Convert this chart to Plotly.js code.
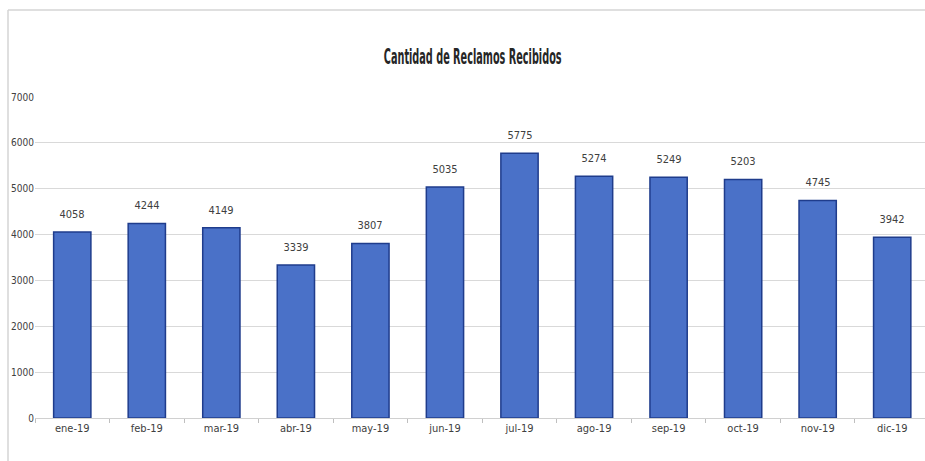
<!DOCTYPE html>
<html>
<head>
<meta charset="utf-8">
<script src="https://cdn.plot.ly/plotly-3.0.1.min.js"></script>
<style>
html,body{margin:0;padding:0;background:#fff;}
#chart{width:925px;height:461px;}
#chart svg text{font-stretch:condensed !important;}
#chart svg .gtitle{transform-box:fill-box;transform-origin:center;transform:scale(0.6,1.15);}
</style>
</head>
<body>
<div id="chart"></div>
<script>
const months = ["ene-19","feb-19","mar-19","abr-19","may-19","jun-19","jul-19","ago-19","sep-19","oct-19","nov-19","dic-19"];
const reclamos = [4058,4244,4149,3339,3807,5035,5775,5274,5249,5203,4745,3942];
const yTicks = [0,1000,2000,3000,4000,5000,6000,7000];
const chartTitle = "Cantidad de Reclamos Recibidos";

const narrow = '"DejaVu Sans", sans-serif';

const trace = {
  type: 'bar',
  x: months,
  y: reclamos,
  width: 0.5,
  marker: {color: '#4a71c8', line: {color: '#1f3c8c', width: 1.5}},
  hoverinfo: 'x+y'
};

const annotations = months.map((m, i) => ({
  x: m, y: reclamos[i], xref: 'x', yref: 'y',
  text: String(reclamos[i]), showarrow: false,
  yanchor: 'bottom', yshift: 9,
  font: {family: narrow, size: 11, color: '#404040'}
}));

const layout = {
  width: 925, height: 461,
  margin: {l: 35, r: 0, t: 97, b: 43},
  paper_bgcolor: '#ffffff', plot_bgcolor: '#ffffff',
  showlegend: false,
  title: {text: chartTitle, x: 0.511, xref: 'container', y: 0.89, yref: 'container', xanchor: 'center',
    font: {family: narrow, size: 18, color: '#262626', weight: 'bold'}},
  xaxis: {
    type: 'category', range: [-0.5, 11.44],
    tickson: 'boundaries', ticks: 'outside', ticklen: 4, tickcolor: '#bfbfbf',
    showline: true, linecolor: '#d0d0d0', linewidth: 1,
    showgrid: false, zeroline: false,
    tickfont: {family: narrow, size: 11, color: '#404040'}
  },
  yaxis: {
    range: [0, 7000], tickvals: yTicks, ticktext: yTicks.map(String),
    showgrid: true, gridcolor: '#d9d9d9', gridwidth: 1,
    zeroline: false, showline: false, ticks: '',
    tickfont: {family: narrow, size: 10, color: '#404040'}
  },
  annotations: annotations,
  shapes: [
    {type: 'line', xref: 'paper', yref: 'paper', x0: -27/890, x1: 1.01, y0: 1 + 87/321, y1: 1 + 87/321, line: {color: '#d4d4d4', width: 1.5}},
    {type: 'line', xref: 'paper', yref: 'paper', x0: -27/890, x1: -27/890, y0: 1 + 87/321, y1: -0.2, line: {color: '#d4d4d4', width: 1.5}}
  ],
  bargap: 0.5
};

Plotly.newPlot('chart', [trace], layout, {displayModeBar: false, staticPlot: true});
</script>
</body>
</html>
